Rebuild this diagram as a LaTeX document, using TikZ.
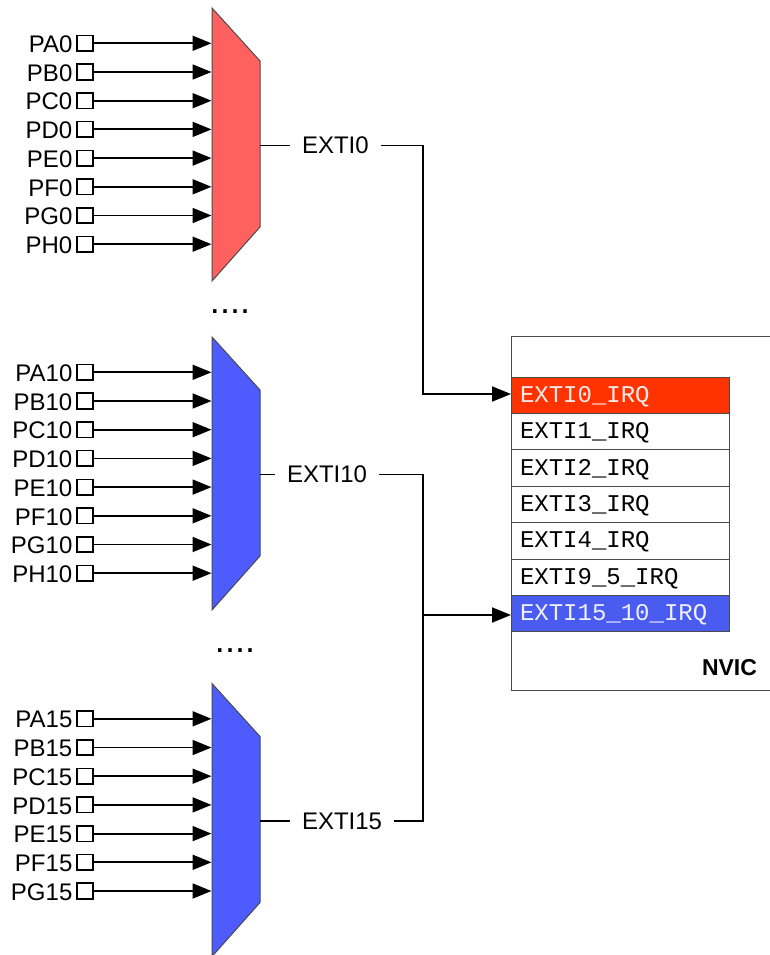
\documentclass[tikz,border=0pt]{standalone}
\usepackage{fontspec}
\setmainfont{Liberation Sans}
\setmonofont{Liberation Mono}
\usetikzlibrary{arrows.meta, positioning}
\definecolor{cred}{HTML}{FF6060}
\definecolor{cblue}{HTML}{4D5BFF}
\definecolor{cirqred}{HTML}{FF3300}
\definecolor{cirqblue}{HTML}{4A5CF0}
\definecolor{cedge}{HTML}{4A4A4A}
\tikzset{
  every picture/.style={x=1pt, y=-1pt, line width=1.8pt},
  mux/.style={draw=cedge, fill=#1, line width=1pt},
  arrow/.style={-{Triangle[length=19pt, width=15pt]}, draw=black},
  wire/.style={draw=black},
  pad/.style={draw=black, rectangle, minimum size=15.5pt, inner sep=0pt, outer sep=0pt, line width=1.6pt},
  pinname/.style={font=\fontsize{24}{26}\selectfont, inner sep=0pt, yshift=-1pt},
  exti/.style={font=\fontsize{24}{26}\selectfont, inner xsep=12pt, inner ysep=0pt, outer sep=0pt},
  irq/.style={draw=cedge, fill=#1, line width=1pt, rectangle, anchor=north west, minimum width=218pt, minimum height=36.4pt,
    text width=200pt, text height=18pt, text depth=4pt, inner xsep=9pt, inner ysep=0pt, outer sep=0pt, align=left, font=\ttfamily\fontsize{24}{26}\selectfont},
  irq/.default=white,
  dots/.style={font=\fontsize{36}{38}\selectfont, inner sep=0pt, anchor=base},
}
\begin{document}
\begin{tikzpicture}
  \useasboundingbox (0,0) rectangle (769,955);
  % pin banks
  \foreach \num/\top/\tint/\pins in {0/8/cred/{A,B,C,D,E,F,G,H}, 10/337/cblue/{A,B,C,D,E,F,G,H}, 15/683.5/cblue/{A,B,C,D,E,F,G}} {
    \draw[mux=\tint] (212,\top) -- (260,\top+53) -- (260,\top+219) -- (212,\top+273) -- cycle;
    \coordinate (out\num) at (260,\top+137.5);
    \foreach \pin [count=\i from 0] in \pins {
      \pgfmathsetmacro{\rowy}{\top+35.3+28.7*\i}
      \node[pad] (pad\pin\num) at (85,\rowy) {};
      \node[pinname, left=4pt of pad\pin\num] (name\pin\num) {P\pin\num};
      \coordinate (tip\pin\num) at (211.5,\rowy);
      \draw[arrow] (pad\pin\num) -- (tip\pin\num);
    }
  }
  \node[dots] (dotsa) at (230,313) {....};
  \node[dots] (dotsb) at (235,652) {....};
  % NVIC
  \node[draw=cedge, line width=1pt, rectangle, anchor=north west, minimum width=262pt, minimum height=354pt, inner sep=0pt] (nvic) at (511,336) {};
  \node[irq=cirqred, text=red!8] (irqa) at (511,377) {EXTI0\_IRQ};
  \node[irq, below=0pt of irqa] (irqb) {EXTI1\_IRQ};
  \node[irq, below=0pt of irqb] (irqc) {EXTI2\_IRQ};
  \node[irq, below=0pt of irqc] (irqd) {EXTI3\_IRQ};
  \node[irq, below=0pt of irqd] (irqe) {EXTI4\_IRQ};
  \node[irq, below=0pt of irqe] (irqf) {EXTI9\_5\_IRQ};
  \node[irq=cirqblue, text=blue!6, below=0pt of irqf] (irqg) {EXTI15\_10\_IRQ};
  \node[font=\bfseries\fontsize{23}{25}\selectfont, inner sep=0pt] (nvicname) at (729.5,668) {NVIC};
  % lines to NVIC
  \node[exti, right=30pt of out0] (lbl0) {EXTI0};
  \node[exti, right=15pt of out10] (lbl10) {EXTI10};
  \node[exti, right=30pt of out15] (lbl15) {EXTI15};
  \foreach \num in {0,10,15} \draw[wire] (out\num) -- (lbl\num);
  \coordinate (turna) at (423,394);
  \coordinate (turnb) at (423,615);
  \draw[arrow] (lbl0.east) -| (turna) -- (irqa.west |- turna);
  \draw[wire] (lbl10.east) -| (turnb);
  \draw[wire] (lbl15.east) -| (turnb);
  \draw[arrow] (turnb) -- (irqg.west |- turnb);
\end{tikzpicture}
\end{document}
